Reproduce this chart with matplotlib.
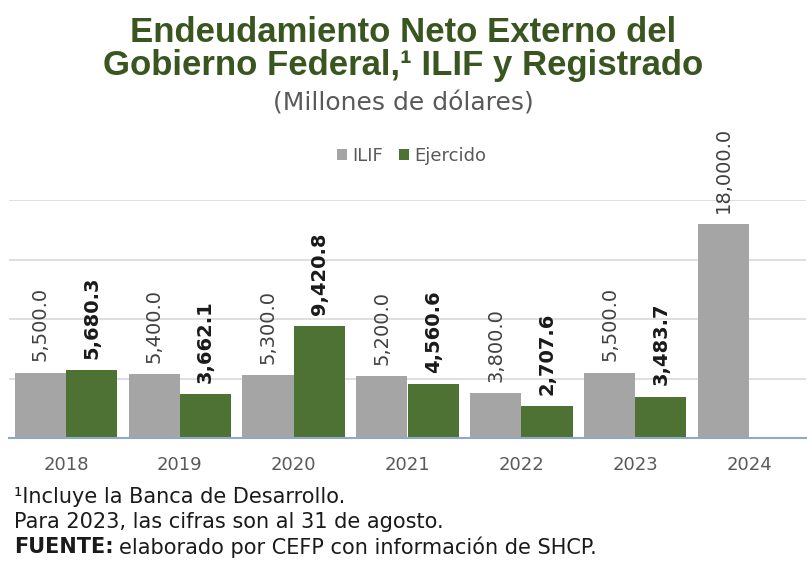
import numpy as np
import matplotlib.pyplot as plt

# datos (millones de dolares)
years = ["2018", "2019", "2020", "2021", "2022", "2023", "2024"]
ilif = [5500.0, 5400.0, 5300.0, 5200.0, 3800.0, 5500.0, 18000.0]
ejercido = [5680.3, 3662.1, 9420.8, 4560.6, 2707.6, 3483.7, None]

gris = "#A5A5A5"
verde = "#4E7233"
titulo_color = "#3A5620"

fig = plt.figure(figsize=(8.07, 5.78), dpi=100)
ax = fig.add_axes([9 / 807, 1 - 438 / 578, 797 / 807, 238 / 578])

x = np.arange(len(years))
w = 0.45
b1 = ax.bar(x - w / 2, ilif, w, color=gris, label="ILIF", zorder=2)
ej_x = [xi + w / 2 for xi, v in zip(x, ejercido) if v is not None]
ej_v = [v for v in ejercido if v is not None]
b2 = ax.bar(ej_x, ej_v, w, color=verde, label="Ejercido", zorder=2)

def fmt(v):
    return f"{v:,.1f}"

for rect, v in zip(b1, ilif):
    ax.annotate(fmt(v), (rect.get_x() + rect.get_width() / 2, v), xytext=(0, 8),
                textcoords="offset points", rotation=90, ha="center", va="bottom",
                fontsize=14, color="#404040", annotation_clip=False)
for rect, v in zip(b2, ej_v):
    ax.annotate(fmt(v), (rect.get_x() + rect.get_width() / 2, v), xytext=(0, 8),
                textcoords="offset points", rotation=90, ha="center", va="bottom",
                fontsize=14, color="#1a1a1a", fontweight="bold", annotation_clip=False)

ax.set_xlim(-0.5, len(years) - 0.5)
ax.set_ylim(0, 20000)
ax.set_yticks([5000, 10000, 15000, 20000])
ax.yaxis.grid(True, color="#D9D9D9", linewidth=1.2, zorder=0)
ax.set_yticklabels([])
ax.tick_params(axis="y", length=0)
ax.set_xticks(x)
ax.set_xticklabels(years, fontsize=13, color="#595959")
ax.tick_params(axis="x", length=0, pad=13)
for s in ["top", "right", "left"]:
    ax.spines[s].set_visible(False)
ax.spines["bottom"].set_color("#8EA9C8")
ax.spines["bottom"].set_linewidth(1.5)
ax.spines["bottom"].set_zorder(3)

fig.text(0.5, 1 - 33 / 578, "Endeudamiento Neto Externo del", ha="center", va="center",
         fontsize=25, fontweight="bold", color=titulo_color,
         family=["Liberation Sans Narrow", "Liberation Sans"])
fig.text(0.5, 1 - 66 / 578, "Gobierno Federal,\u00b9 ILIF y Registrado", ha="center", va="center",
         fontsize=25, fontweight="bold", color=titulo_color,
         family=["Liberation Sans Narrow", "Liberation Sans"])
fig.text(0.5, 1 - 103 / 578, "(Millones de dólares)", ha="center", va="center",
         fontsize=18, color="#595959")

fig.legend(handles=[b1, b2], loc="center", bbox_to_anchor=(0.51, 1 - 156 / 578), ncol=2,
           frameon=False, fontsize=13, handlelength=0.55, handleheight=0.55,
           handletextpad=0.3, columnspacing=0.9, labelcolor="#595959")

fig.text(14 / 807, 1 - 497 / 578, "\u00b9Incluye la Banca de Desarrollo.", ha="left", va="center",
         fontsize=15, color="#1a1a1a")
fig.text(14 / 807, 1 - 522 / 578, "Para 2023, las cifras son al 31 de agosto.", ha="left", va="center",
         fontsize=15, color="#1a1a1a")
t = fig.text(14 / 807, 1 - 547 / 578, "FUENTE:", ha="left", va="center",
             fontsize=15, color="#1a1a1a", fontweight="bold")
fig.canvas.draw()
bb = t.get_window_extent()
fig.text(bb.x1 / fig.bbox.width + 5 / 807, 1 - 547 / 578,
         "elaborado por CEFP con información de SHCP.", ha="left", va="center",
         fontsize=15, color="#1a1a1a")

fig.savefig("out.png", dpi=100)
